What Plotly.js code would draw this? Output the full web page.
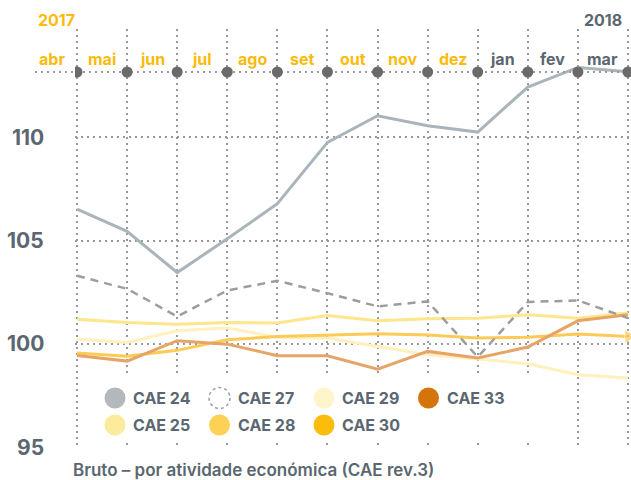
<!DOCTYPE html>
<html><head><meta charset="utf-8">
<script src="https://cdn.plot.ly/plotly-3.0.1.min.js"></script>
<style>html,body{margin:0;padding:0;background:#fff;} #chart{width:631px;height:480px;}</style>
</head><body><div id="chart"></div>
<script>
// ---- data ----
const months = ['abr','mai','jun','jul','ago','set','out','nov','dez','jan','fev','mar'];
const monthYears = [2017,2017,2017,2017,2017,2017,2017,2017,2017,2018,2018,2018];
const yearLabels = ['2017','2018'];
const yTicks = [95, 100, 105, 110];
const cae24 = [106.52,105.44,103.45,105.08,106.78,109.75,111.04,110.56,110.25,112.43,113.38,113.17];
const cae27 = [103.29,102.66,101.32,102.58,103.05,102.45,101.81,102.05,99.36,102.02,102.10,101.24];
const cae25 = [101.19,101.03,100.95,101.03,101.00,101.37,101.11,101.21,101.24,101.40,101.24,101.49];
const cae29 = [100.23,100.06,100.63,100.76,100.32,100.28,99.87,99.47,99.26,99.03,98.50,98.34];
const cae33 = [99.43,99.16,100.15,99.98,99.42,99.42,98.77,99.63,99.31,99.84,101.11,101.40];
const cae28 = [99.55,99.39,99.68,100.19,100.35,100.42,100.48,100.42,100.28,100.31,100.47,100.35];
const legendNames = ['CAE 24','CAE 27','CAE 29','CAE 33','CAE 25','CAE 28','CAE 30'];
const legendColors = ['#b2b8bc','#ffffff','#fef5cd','#d5740b','#fdeb9c','#fcd156','#fbbc0c'];
const caption = 'Bruto – por atividade económica (CAE rev.3)';

// ---- layout helpers (pixel -> paper) ----
const W = 631, H = 480, L = 75, R = 0, T = 29, B = 33;
const X0 = 77, XN = 628;               // pixel of first / last month
const pw = W - L - R, ph = H - T - B;
const step = (XN - X0) / 11;
const px = x => (x - L) / pw;
const py = y => (H - B - y) / ph;
const gray = '#5b6770', yellow = '#fbbb0c';
const FONT = 'Inter, "Open Sans", sans-serif';
const DOTS = '2px,4px';

const idx = months.map((m, i) => i);

function line(y, color, width, extra) {
  return Object.assign({
    x: idx, y: y, type: 'scatter', mode: 'lines',
    line: {color: color, width: width}, hoverinfo: 'skip', showlegend: false, cliponaxis: false
  }, extra || {});
}

const traces = [
  line(cae29, '#fef1bd', 3),
  line(cae25, '#fde68c', 3),
  line(cae28, '#fcca57', 3, {mode: 'lines+markers',
    marker: {symbol: 'triangle-right', color: '#fcca57',
      size: idx.map(i => i === idx.length - 1 ? 13 : 0)}}),
  line(cae33, '#e6a566', 3),
  line(cae27, '#9d9d9d', 2.5, {line: {color: '#9d9d9d', width: 2.5, dash: '8px,6px'}}),
  line(cae24, '#aab4bb', 3)
];

const shapes = [];
const annotations = [];
function text(xp, yp, t, size, weight, color, xanchor) {
  annotations.push({x: xp, xref: 'paper', y: yp, yref: 'paper', text: t, showarrow: false,
    xanchor: xanchor || 'center', yanchor: 'middle',
    font: {family: FONT, size: size, weight: weight, color: color}});
}

// top month axis: dotted line + dots
shapes.push({type: 'line', xref: 'paper', yref: 'paper', x0: px(35), x1: 1, y0: py(72), y1: py(72),
  line: {color: '#999', width: 2, dash: DOTS}});
idx.forEach(i => {
  shapes.push({type: 'circle', xref: 'x', yref: 'paper', xsizemode: 'pixel', ysizemode: 'pixel',
    xanchor: i, yanchor: py(72), x0: -5.5, x1: 5.5, y0: -5.5, y1: 5.5,
    fillcolor: '#6a6a6a', line: {width: 0}});
  text(px(X0 + (i - 0.5) * step), py(59), months[i], 16, 700, monthYears[i] === 2017 ? yellow : gray);
});
text(px(56), py(20), yearLabels[0], 16, 700, yellow);
text(px(603), py(20), yearLabels[1], 16, 700, gray);

// y tick labels
yTicks.forEach(v => {
  annotations.push({x: px(46), xref: 'paper', xanchor: 'right', y: v, yref: 'y', yanchor: 'middle',
    text: String(v), showarrow: false, font: {family: FONT, size: 21, weight: 700, color: gray}});
});

// legend box
shapes.push({type: 'rect', xref: 'paper', yref: 'paper', x0: px(79), x1: px(576), y0: py(443), y1: py(377),
  fillcolor: '#ffffff', line: {width: 0}, layer: 'above'});
legendNames.forEach((n, k) => {
  const row = k < 4 ? 0 : 1, col = k < 4 ? k : k - 4;
  const cx = 115 + 104.5 * col, cy = 398 + 27 * row;
  const dashed = n === 'CAE 27';
  shapes.push({type: 'circle', xref: 'paper', yref: 'paper', xsizemode: 'pixel', ysizemode: 'pixel',
    xanchor: px(cx), yanchor: py(cy), x0: -10.5, x1: 10.5, y0: -10.5, y1: 10.5,
    fillcolor: legendColors[k],
    line: dashed ? {color: '#9d9d9d', width: 1.5, dash: '3px,3px'} : {width: 0}, layer: 'above'});
  text(px(cx + 16), py(cy), n, 16, 700, gray, 'left');
});

text(px(71), py(470), caption, 17, 600, gray, 'left');

const layout = {
  width: W, height: H,
  margin: {l: L, r: R, t: T, b: B, pad: 0},
  paper_bgcolor: '#fff', plot_bgcolor: '#fff',
  showlegend: false,
  xaxis: {range: [-(X0 - L) / step, (W - X0) / step], tickvals: idx, showticklabels: false, ticks: '',
    showgrid: true, gridcolor: '#999', gridwidth: 2, griddash: DOTS, zeroline: false, showline: false, fixedrange: true},
  yaxis: {range: [95, 95 + ph / 20.65], tickvals: yTicks, showticklabels: false, ticks: '',
    showgrid: true, gridcolor: '#999', gridwidth: 2, griddash: DOTS, zeroline: false, showline: false, fixedrange: true},
  shapes: shapes,
  annotations: annotations
};

Plotly.newPlot('chart', traces, layout, {displayModeBar: false, staticPlot: true});
</script>
</body></html>
